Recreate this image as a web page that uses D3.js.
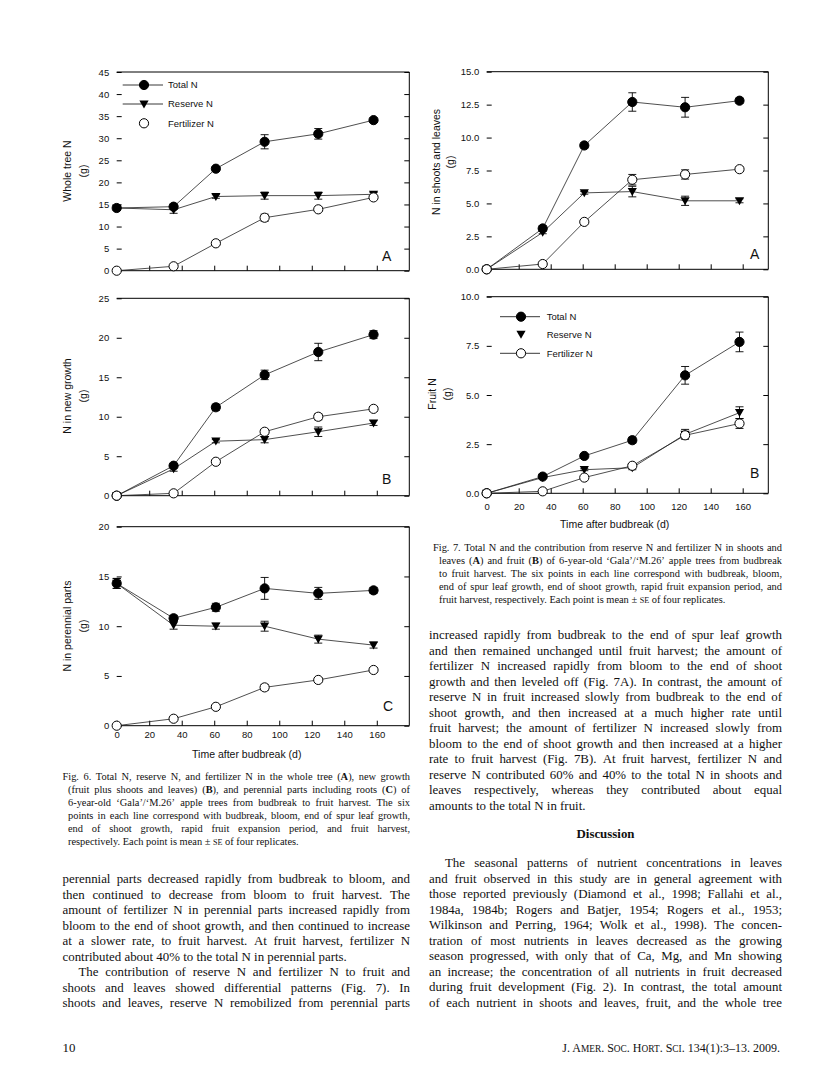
<!DOCTYPE html>
<html>
<head>
<meta charset="utf-8">
<script src="https://cdn.jsdelivr.net/npm/d3@7"></script>
<style>
body { margin: 0; background: #fff; }
svg { display: block; }
.tx { font-family: "Liberation Serif", "Times New Roman", serif; fill: #111; }
</style>
</head>
<body>
<svg id="page" width="837" height="1087"></svg>
<script>
// sampling days (budbreak, bloom, end spur leaf, end shoot, rapid fruit exp., harvest)
var days = [0, 35, 61, 91, 124, 158];
var xTicks = [0, 20, 40, 60, 80, 100, 120, 140, 160];
var seriesNames = ["Total N", "Reserve N", "Fertilizer N"];

// Fig. 6A whole tree N (g)
var treeTotal     = [14.2, 14.5, 23.1, 29.2, 31.0, 34.1];
var treeTotalSE   = [0.5, 0.6, 0.5, 1.6, 1.2, 0.5];
var treeReserve   = [14.2, 13.8, 16.8, 17.0, 17.0, 17.3];
var treeReserveSE = [0.4, 0.8, 0.4, 0.8, 0.8, 0.4];
var treeFert      = [0, 1.0, 6.2, 12.0, 13.9, 16.6];
var treeFertSE    = [0, 0.2, 0.4, 0.8, 0.4, 0.4];

// Fig. 6B new growth
var newTotal     = [0, 3.8, 11.2, 15.3, 18.2, 20.4];
var newTotalSE   = [0, 0.3, 0.4, 0.6, 1.1, 0.5];
var newReserve   = [0, 3.4, 6.9, 7.1, 8.1, 9.2];
var newReserveSE = [0, 0.3, 0.2, 0.4, 0.6, 0.3];
var newFert      = [0, 0.3, 4.3, 8.1, 10.0, 11.0];
var newFertSE    = [0, 0.1, 0.2, 0.3, 0.4, 0.3];

// Fig. 6C perennial parts
var perTotal     = [14.3, 10.8, 11.9, 13.8, 13.3, 13.6];
var perTotalSE   = [0.5, 0.3, 0.4, 1.1, 0.6, 0.3];
var perReserve   = [14.3, 10.1, 10.0, 10.0, 8.7, 8.1];
var perReserveSE = [0.5, 0.4, 0.3, 0.5, 0.4, 0.3];
var perFert      = [0, 0.7, 1.9, 3.85, 4.6, 5.6];
var perFertSE    = [0, 0.1, 0.1, 0.3, 0.2, 0.2];

// Fig. 7A shoots and leaves
var slTotal     = [0, 3.1, 9.4, 12.7, 12.3, 12.8];
var slTotalSE   = [0, 0.2, 0.2, 0.7, 0.75, 0.2];
var slReserve   = [0, 2.8, 5.8, 5.9, 5.2, 5.2];
var slReserveSE = [0, 0.1, 0.1, 0.4, 0.35, 0.15];
var slFert      = [0, 0.4, 3.6, 6.8, 7.2, 7.6];
var slFertSE    = [0, 0.05, 0.1, 0.4, 0.35, 0.15];

// Fig. 7B fruit
var frTotal     = [0, 0.85, 1.9, 2.7, 6.0, 7.7];
var frTotalSE   = [0, 0.05, 0.1, 0.15, 0.45, 0.5];
var frReserve   = [0, 0.8, 1.2, 1.3, 3.0, 4.1];
var frReserveSE = [0, 0.05, 0.05, 0.1, 0.25, 0.3];
var frFert      = [0, 0.1, 0.8, 1.4, 2.95, 3.55];
var frFertSE    = [0, 0.02, 0.05, 0.1, 0.15, 0.25];

var svg = d3.select("#page");
svg.append("rect").attr("width", 837).attr("height", 1087).attr("fill", "#fff");

var sans = "'Liberation Sans', Arial, sans-serif";
var tri = "M-4.6,-3.6L4.6,-3.6L0,4.4Z";

function marker(g, kind, cx, cy) {
  if (kind == "tri") {
    g.append("path").attr("d", tri).attr("transform", "translate(" + cx + "," + cy + ")").attr("fill", "#000");
  } else {
    g.append("circle").attr("cx", cx).attr("cy", cy).attr("r", 4.6)
      .attr("fill", kind == "open" ? "#fff" : "#000")
      .attr("stroke", "#000").attr("stroke-width", 1);
  }
}

function drawPanel(p) {
  var x = d3.scaleLinear().domain([0, p.xmax]).range([p.left, p.right]);
  var y = d3.scaleLinear().domain([0, p.ymax]).range([p.bottom, p.top]);
  var g = svg.append("g");
  var yt = d3.range(0, p.ymax + 1e-9, p.ystep);

  var ya = g.append("g").attr("transform", "translate(" + p.left + ",0)")
    .call(d3.axisLeft(y).tickValues(yt).tickFormat(p.fmt).tickSizeInner(-5).tickSizeOuter(0).tickPadding(7.5));
  var yr = g.append("g").attr("transform", "translate(" + p.right + ",0)")
    .call(d3.axisRight(y).tickValues(yt).tickFormat("").tickSizeInner(-5).tickSizeOuter(0));
  var xa = g.append("g").attr("transform", "translate(0," + p.bottom + ")")
    .call(d3.axisBottom(x).tickValues(p.xlab ? xTicks : xTicks.slice(1))
      .tickFormat(p.xlab ? d3.format("d") : "").tickSizeInner(-5).tickSizeOuter(0).tickPadding(p.xpad || 6));
  [ya, yr, xa].forEach(function(a) {
    a.select(".domain").remove();
    a.attr("font-family", sans).attr("font-size", 9.5);
    a.selectAll(".tick line").attr("stroke", "#000");
    a.selectAll(".tick text").attr("fill", "#111");
  });

  // frame: top, right, bottom (no left spine)
  g.append("path")
    .attr("d", "M" + p.left + "," + p.top + "H" + p.right + "V" + p.bottom + "H" + p.left)
    .attr("fill", "none").attr("stroke", "#000").attr("stroke-width", 1);

  var line = d3.line().x(function(d) { return x(d[0]); }).y(function(d) { return y(d[1]); });
  p.series.forEach(function(s) {
    var pts = days.map(function(d, i) { return [d, s.v[i], s.se[i]]; });
    g.append("path").attr("d", line(pts)).attr("fill", "none")
      .attr("stroke", "#222").attr("stroke-width", 0.8);
    pts.forEach(function(d) {
      if (d[2] > 0) {
        var cx = x(d[0]), y0 = y(d[1] - d[2]), y1 = y(d[1] + d[2]);
        g.append("path").attr("d", "M" + cx + "," + y0 + "V" + y1 + "M" + (cx - 4) + "," + y0 + "H" + (cx + 4) + "M" + (cx - 4) + "," + y1 + "H" + (cx + 4))
          .attr("stroke", "#000").attr("stroke-width", 0.9).attr("fill", "none");
      }
    });
  });
  p.series.forEach(function(s) {
    days.forEach(function(d, i) { marker(g, s.kind, x(d), y(s.v[i])); });
  });

  // panel letter
  g.append("text").attr("x", p.lx).attr("y", p.ly).text(p.letter)
    .attr("font-family", sans).attr("font-size", 14).attr("fill", "#111");

  // y title (two lines)
  p.title.forEach(function(t, i) {
    g.append("text").attr("transform", "translate(" + p.tx[i] + "," + p.ty + ") rotate(-90)")
      .attr("text-anchor", "middle").attr("dy", "0.35em")
      .attr("font-family", sans).attr("font-size", 10.5).attr("fill", "#111").text(t);
  });

  if (p.xlab) {
    g.append("text").attr("x", (x(0) + x(160)) / 2).attr("y", p.bottom + p.xtitle)
      .attr("text-anchor", "middle").attr("dy", "0.35em")
      .attr("font-family", sans).attr("font-size", 10.5).attr("fill", "#111")
      .text("Time after budbreak (d)");
  }

  if (p.legend) {
    var L = p.legend;
    seriesNames.forEach(function(n, i) {
      var ry = L.rows[i];
      if (L.lines.indexOf(i) >= 0) {
        g.append("line").attr("x1", L.x0).attr("x2", L.x1).attr("y1", ry).attr("y2", ry)
          .attr("stroke", "#222").attr("stroke-width", 0.9);
      }
      marker(g, p.series[i].kind, L.mx, ry);
      g.append("text").attr("x", L.tx).attr("y", ry).attr("dy", "0.35em")
        .attr("font-family", sans).attr("font-size", 9.5).attr("fill", "#111").text(n);
    });
  }
}

var f0 = d3.format("d"), f1 = d3.format(".1f");
var L6 = {left: 116.7, right: 409.3, xmax: 180};
var R7 = {left: 486.7, right: 768.3, xmax: 176};

var panels = [
  Object.assign({top: 72, bottom: 270.7, ymax: 45, ystep: 5, fmt: f0, letter: "A", lx: 382, ly: 261,
    title: ["Whole tree N", "(g)"], tx: [67, 83], ty: 171,
    series: [{v: treeTotal, se: treeTotalSE, kind: "fill"}, {v: treeReserve, se: treeReserveSE, kind: "tri"}, {v: treeFert, se: treeFertSE, kind: "open"}],
    legend: {rows: [85, 104, 123.3], lines: [0, 1], x0: 122.7, x1: 163, mx: 144, tx: 168}}, L6),
  Object.assign({top: 298.3, bottom: 495.7, ymax: 25, ystep: 5, fmt: f0, letter: "B", lx: 382, ly: 484,
    title: ["N in new growth", "(g)"], tx: [67, 83], ty: 396,
    series: [{v: newTotal, se: newTotalSE, kind: "fill"}, {v: newReserve, se: newReserveSE, kind: "tri"}, {v: newFert, se: newFertSE, kind: "open"}]}, L6),
  Object.assign({top: 526.7, bottom: 725.7, ymax: 20, ystep: 5, fmt: f0, letter: "C", lx: 383, ly: 711,
    title: ["N in perennial parts", "(g)"], tx: [67, 83], ty: 626, xlab: true, xpad: 6, xtitle: 29,
    series: [{v: perTotal, se: perTotalSE, kind: "fill"}, {v: perReserve, se: perReserveSE, kind: "tri"}, {v: perFert, se: perFertSE, kind: "open"}]}, L6),
  Object.assign({top: 71.7, bottom: 269.3, ymax: 15, ystep: 2.5, fmt: f1, letter: "A", lx: 750, ly: 259,
    title: ["N in shoots and leaves", "(g)"], tx: [436, 450], ty: 162,
    series: [{v: slTotal, se: slTotalSE, kind: "fill"}, {v: slReserve, se: slReserveSE, kind: "tri"}, {v: slFert, se: slFertSE, kind: "open"}]}, R7),
  Object.assign({top: 296.7, bottom: 493.3, ymax: 10, ystep: 2.5, fmt: f1, letter: "B", lx: 750, ly: 478,
    title: ["Fruit N", "(g)"], tx: [432, 447], ty: 394, xlab: true, xpad: 9.5, xtitle: 31,
    series: [{v: frTotal, se: frTotalSE, kind: "fill"}, {v: frReserve, se: frReserveSE, kind: "tri"}, {v: frFert, se: frFertSE, kind: "open"}],
    legend: {rows: [316.7, 334.3, 353.3], lines: [0, 2], x0: 500, x1: 540, mx: 521, tx: 546.7}}, R7)
];
panels.forEach(drawPanel);

// ---------- page text ----------
var fig6Caption = [
  "Fig. 6. Total N, reserve N, and fertilizer N in the whole tree (*A*), new growth",
  "(fruit plus shoots and leaves) (*B*), and perennial parts including roots (*C*) of",
  "6-year-old ‘Gala’/‘M.26’ apple trees from budbreak to fruit harvest. The six",
  "points in each line correspond with budbreak, bloom, end of spur leaf growth,",
  "end of shoot growth, rapid fruit expansion period, and fruit harvest,",
  "respectively. Each point is mean ± ~se~ of four replicates."
];
var fig7Caption = [
  "Fig. 7. Total N and the contribution from reserve N and fertilizer N in shoots and",
  "leaves (*A*) and fruit (*B*) of 6-year-old ‘Gala’/‘M.26’ apple trees from budbreak",
  "to fruit harvest. The six points in each line correspond with budbreak, bloom,",
  "end of spur leaf growth, end of shoot growth, rapid fruit expansion period, and",
  "fruit harvest, respectively. Each point is mean ± ~se~ of four replicates."
];
var leftBody = [
  "perennial parts decreased rapidly from budbreak to bloom, and",
  "then continued to decrease from bloom to fruit harvest. The",
  "amount of fertilizer N in perennial parts increased rapidly from",
  "bloom to the end of shoot growth, and then continued to increase",
  "at a slower rate, to fruit harvest. At fruit harvest, fertilizer N",
  "contributed about 40% to the total N in perennial parts.",
  "The contribution of reserve N and fertilizer N to fruit and",
  "shoots and leaves showed differential patterns (Fig. 7). In",
  "shoots and leaves, reserve N remobilized from perennial parts"
];
var rightBody = [
  "increased rapidly from budbreak to the end of spur leaf growth",
  "and then remained unchanged until fruit harvest; the amount of",
  "fertilizer N increased rapidly from bloom to the end of shoot",
  "growth and then leveled off (Fig. 7A). In contrast, the amount of",
  "reserve N in fruit increased slowly from budbreak to the end of",
  "shoot growth, and then increased at a much higher rate until",
  "fruit harvest; the amount of fertilizer N increased slowly from",
  "bloom to the end of shoot growth and then increased at a higher",
  "rate to fruit harvest (Fig. 7B). At fruit harvest, fertilizer N and",
  "reserve N contributed 60% and 40% to the total N in shoots and",
  "leaves respectively, whereas they contributed about equal",
  "amounts to the total N in fruit."
];
var discussion = [
  "The seasonal patterns of nutrient concentrations in leaves",
  "and fruit observed in this study are in general agreement with",
  "those reported previously (Diamond et al., 1998; Fallahi et al.,",
  "1984a, 1984b; Rogers and Batjer, 1954; Rogers et al., 1953;",
  "Wilkinson and Perring, 1964; Wolk et al., 1998). The concen-",
  "tration of most nutrients in leaves decreased as the growing",
  "season progressed, with only that of Ca, Mg, and Mn showing",
  "an increase; the concentration of all nutrients in fruit decreased",
  "during fruit development (Fig. 2). In contrast, the total amount",
  "of each nutrient in shoots and leaves, fruit, and the whole tree"
];

var txt = svg.append("g").attr("class", "tx");

// word with markup: *bold*, ~small caps~
function word(parent, w, size) {
  var t = parent.append("text").attr("font-size", size);
  var bold = false, sc = false, buf = "";
  function flush() {
    if (!buf) return;
    var s = t.append("tspan").text(sc ? buf.toUpperCase() : buf);
    if (bold) s.attr("font-weight", "bold");
    if (sc) s.attr("font-size", size * 0.78);
    buf = "";
  }
  for (var ch of w) {
    if (ch == "*") { flush(); bold = !bold; }
    else if (ch == "~") { flush(); sc = !sc; }
    else buf += ch;
  }
  flush();
  return t;
}

// justified block: lines, left x, right x, first centre y, line step, font size, indents, last-line flags
function block(lines, x0, x1, y0, step, size, indent, ragged) {
  lines.forEach(function(ln, i) {
    var lx = x0 + (indent[i] || 0);
    var by = y0 + i * step + size * 0.32;
    var ws = ln.split(" ");
    var nodes = ws.map(function(w) { return word(txt, w, size); });
    var widths = nodes.map(function(n) { return n.node().getComputedTextLength(); });
    var sum = d3.sum(widths);
    var gap = (ragged.indexOf(i) >= 0 || ws.length < 2) ? size * 0.25 : (x1 - lx - sum) / (ws.length - 1);
    var cx = lx;
    nodes.forEach(function(n, k) {
      n.attr("x", cx).attr("y", by);
      cx += widths[k] + gap;
    });
  });
}

var capSize = 10.4, bodySize = 12.9, bodyStep = 15.5;
block(fig6Caption, 62.5, 410, 777, 13, capSize, [0, 5.5, 5.5, 5.5, 5.5, 5.5], [5]);
block(fig7Caption, 433, 782, 548, 13, capSize, [0, 6, 6, 6, 6], [4]);
block(leftBody, 62.5, 410, 879, bodyStep, bodySize, [0, 0, 0, 0, 0, 0, 16, 0, 0], [5]);
block(rightBody, 429, 782, 635, bodyStep, bodySize, [], [11]);
block(discussion, 429, 782, 863, bodyStep, bodySize, [16], []);

txt.append("text").attr("x", 605.5).attr("y", 834 + bodySize * 0.32).attr("text-anchor", "middle")
  .attr("font-size", bodySize).attr("font-weight", "bold").text("Discussion");

txt.append("text").attr("x", 62.5).attr("y", 1048 + 4).attr("font-size", bodySize).text("10");
var foot = word(txt, "J. A~mer~. S~oc~. H~ort~. S~ci~. 134(1):3–13. 2009.", 12);
foot.attr("x", 780).attr("y", 1048 + 4).attr("text-anchor", "end");
</script>
</body>
</html>
